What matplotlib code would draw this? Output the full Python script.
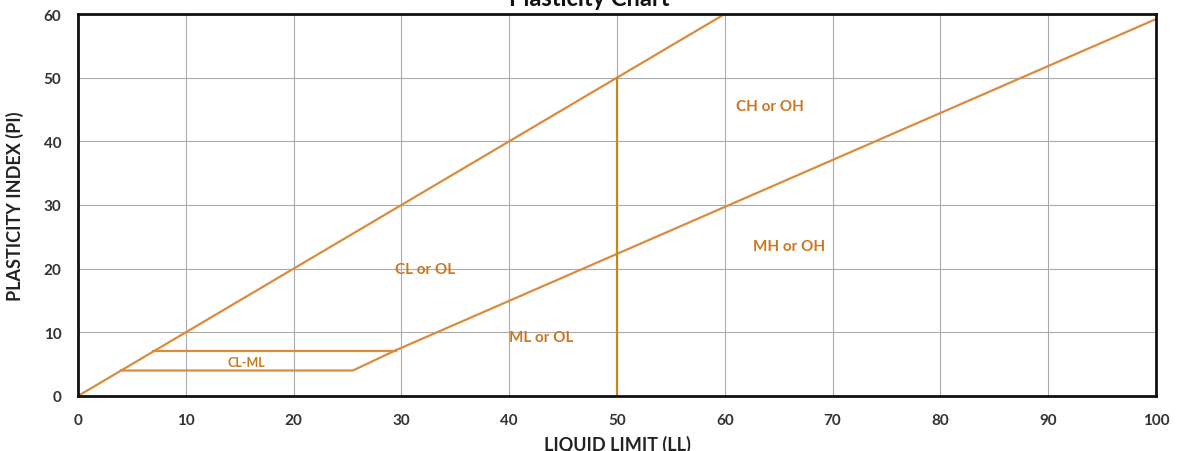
import numpy as np
import matplotlib.pyplot as plt

# Linien des Plastizitätsdiagramms (LL, PI)
u_ll = [0, 60]
u_pi = [0, 60]
a_ll = [29.5, 100]
a_pi = [7.2, 59.2]
clml_oben_ll = [7, 29.5]
clml_oben_pi = [7, 7]
clml_unten_ll = [4, 25.5, 29.5]
clml_unten_pi = [4, 4, 7.2]
grenze_ll = [50, 50]
grenze_pi = [0, 50]

bereiche = ["CH or OH", "CL or OL", "MH or OH", "ML or OL", "CL-ML"]
bereich_ll = [64.2, 32.2, 66.0, 43.0, 15.6]
bereich_pi = [45.5, 19.9, 23.5, 9.3, 5.3]
bereich_gr = [11, 11, 11, 11, 9]

orange = '#DB8B3E'
textfarbe = '#C9781F'

plt.rcParams['font.family'] = ['Lato', 'DejaVu Sans']

fig = plt.figure(figsize=(11.78, 4.52), dpi=100)
ax = fig.add_axes([0.0662, 0.1217, 0.9151, 0.8451])

ax.plot(u_ll, u_pi, color=orange, lw=1.6)
ax.plot(a_ll, a_pi, color=orange, lw=1.6)
ax.plot(clml_oben_ll, clml_oben_pi, color=orange, lw=1.6)
ax.plot(clml_unten_ll, clml_unten_pi, color=orange, lw=1.6)
ax.plot(grenze_ll, grenze_pi, color='#C28A1A', lw=1.6)

for name, x, y, gr in zip(bereiche, bereich_ll, bereich_pi, bereich_gr):
    ax.text(x, y, name, color=textfarbe, fontsize=gr, fontweight='bold',
            ha='center', va='center')

ax.set_xlim(0, 100)
ax.set_ylim(0, 60)
ax.set_xticks(np.arange(0, 101, 10))
ax.set_yticks(np.arange(0, 61, 10))
ax.grid(True, color='#AAAAAA', lw=0.8)
ax.set_axisbelow(True)
ax.tick_params(length=0, labelsize=11, labelcolor='#333333', pad=12)
for lab in ax.get_xticklabels() + ax.get_yticklabels():
    lab.set_fontweight('bold')
for sp in ax.spines.values():
    sp.set_linewidth(2)
    sp.set_color('#111111')

ax.set_xlabel("LIQUID LIMIT (LL)", fontsize=13, fontweight='bold', color='#222222', labelpad=6)
ax.set_ylabel("PLASTICITY INDEX (PI)", fontsize=13, fontweight='bold', color='#222222', labelpad=14)

fig.text(0.5, 1 - 6 / 452, "Plasticity Chart", ha='center', va='baseline',
         fontsize=17, fontweight='bold', color='#111111')

fig.savefig('out.png', dpi=100)
